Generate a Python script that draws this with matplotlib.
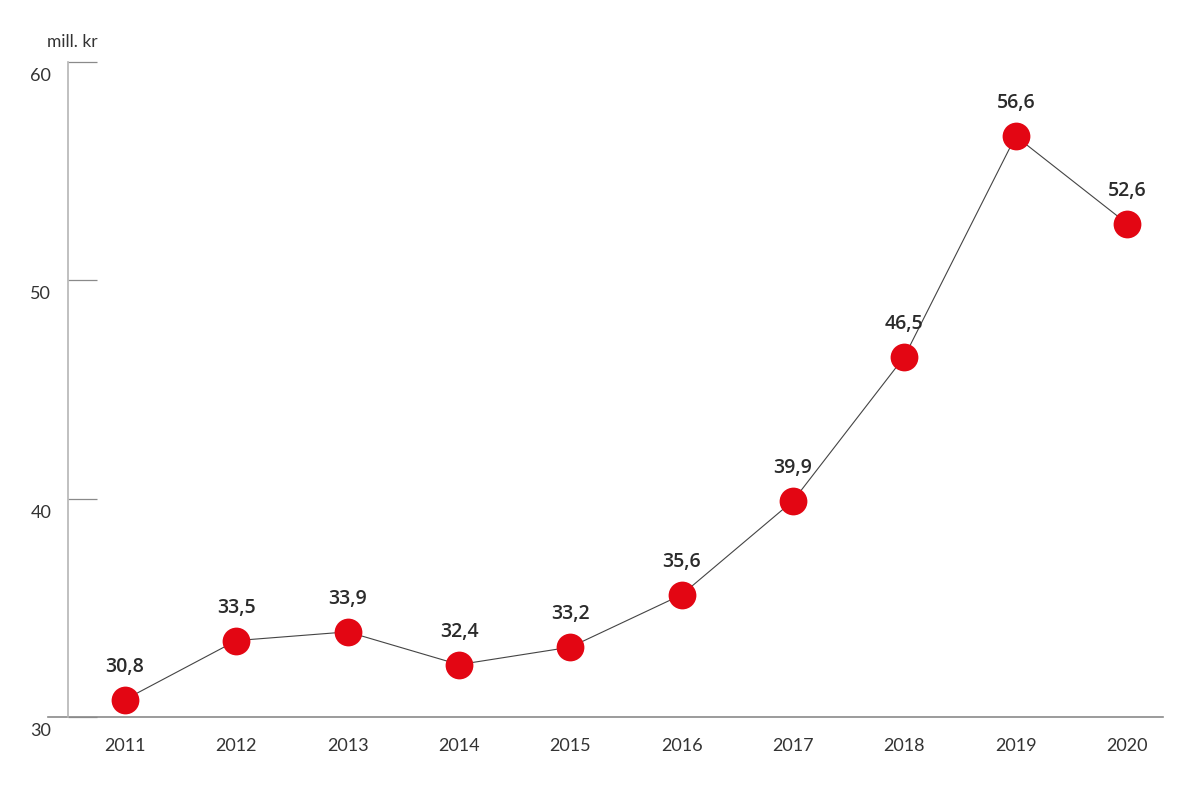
import matplotlib.pyplot as plt

years = [2011, 2012, 2013, 2014, 2015, 2016, 2017, 2018, 2019, 2020]
values = [30.8, 33.5, 33.9, 32.4, 33.2, 35.6, 39.9, 46.5, 56.6, 52.6]
labels = ['30,8', '33,5', '33,9', '32,4', '33,2', '35,6', '39,9', '46,5', '56,6', '52,6']
y_ticks = [30, 40, 50, 60]
unit = 'mill. kr'

plt.rcParams['font.family'] = ['Lato', 'DejaVu Sans']

W, H = 1200, 802
fig = plt.figure(figsize=(W / 100, H / 100), dpi=100)
# axes box in pixels: left 68, right 1163, top 62, bottom 717
ax = fig.add_axes([68 / W, 1 - 717 / H, (1163 - 68) / W, (717 - 62) / H])

ax.plot(years, values, color='#444444', linewidth=0.8, zorder=2)
ax.plot(years, values, linestyle='none', marker='o', markersize=20,
        markerfacecolor='#e30613', markeredgecolor='none', zorder=3)

for x, y, s in zip(years, values, labels):
    ax.annotate(s, (x, y), xytext=(0, 16.5), textcoords='offset points',
                ha='center', va='bottom', fontsize=14, fontweight='semibold',
                family=['Open Sans', 'DejaVu Sans'], color='#2b2b2b')

ax.set_xlim(2010.488, 2020.323)
ax.set_ylim(30, 60)

for side in ['top', 'right', 'bottom']:
    ax.spines[side].set_visible(False)
ax.spines['left'].set_color('#b5b5b5')
ax.spines['left'].set_linewidth(1.2)

# bottom base line, reaching a bit left of the y axis
ax.plot([-20 / 1095, 1], [0, 0], transform=ax.transAxes, color='#8a8a8a',
        linewidth=1.2, clip_on=False, zorder=1)

ax.set_yticks(y_ticks)
ax.set_yticklabels([])
ax.tick_params(axis='y', direction='in', length=21, width=0.9, color='#8a8a8a')
for t in y_ticks:
    ax.annotate(str(t), (0, t), xycoords=ax.get_yaxis_transform(),
                xytext=(-12, -10), textcoords='offset points',
                ha='right', va='center', fontsize=13, color='#333333')

ax.set_xticks(years)
ax.set_xticklabels([str(y) for y in years], fontsize=13, color='#333333')
ax.tick_params(axis='x', length=0, pad=15)

fig.text(98 / W, 1 - 42 / H, unit, ha='right', va='center', fontsize=12.5,
         color='#333333')

fig.savefig('out.png', dpi=100, facecolor='white')
